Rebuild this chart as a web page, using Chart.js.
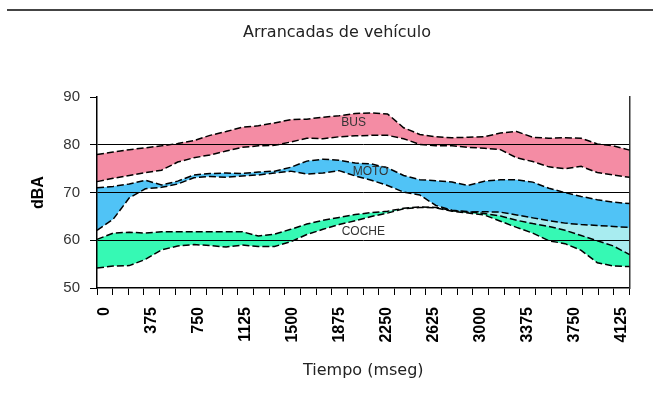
<!DOCTYPE html>
<html>
<head>
<meta charset="utf-8">
<script src="https://cdn.jsdelivr.net/npm/chart.js"></script>
<style>
  body { margin: 0; background: #fff; }
  #marco { position: relative; width: 653px; height: 405px; }
  #raya { position: absolute; top: 9px; left: 7px; width: 646px; height: 2px; background: #444; }
</style>
</head>
<body>
<div id="marco">
  <div id="raya"></div>
  <canvas id="grafico" width="653" height="405"></canvas>
</div>
<script>
// datos (dBA) cada 125 ms
const tiempos = [0, 125, 250, 375, 500, 625, 750, 875, 1000, 1125, 1250, 1375, 1500, 1625, 1750, 1875, 2000,
  2125, 2250, 2375, 2500, 2625, 2750, 2875, 3000, 3125, 3250, 3375, 3500, 3625, 3750, 3875, 4000, 4125];

const busMax = [78.0, 78.5, 79.0, 79.4, 79.8, 80.3, 80.9, 82.0, 82.8, 83.7, 84.0, 84.6, 85.3, 85.4, 85.8, 86.1, 86.6,
  86.7, 86.5, 83.6, 82.2, 81.7, 81.5, 81.6, 81.7, 82.5, 82.8, 81.6, 81.4, 81.5, 81.4, 80.2, 79.8, 78.9];
const busMin = [72.3, 73.0, 73.6, 74.2, 74.7, 76.4, 77.3, 77.9, 78.7, 79.5, 79.8, 79.9, 80.6, 81.4, 81.3, 81.7, 81.9,
  82.0, 82.0, 81.3, 80.1, 79.8, 79.8, 79.5, 79.3, 79.0, 77.3, 76.5, 75.4, 75.0, 75.5, 74.2, 73.7, 73.2];

const motoMax = [71.0, 71.3, 71.8, 72.6, 71.6, 72.4, 73.7, 74.0, 74.1, 74.0, 74.3, 74.5, 75.3, 76.6, 77.0, 76.8, 76.2,
  76.0, 75.2, 73.6, 72.7, 72.5, 72.2, 71.5, 72.4, 72.7, 72.7, 72.2, 70.9, 70.0, 69.2, 68.5, 68.0, 67.7];
const motoMin = [62.1, 64.4, 68.9, 70.8, 71.1, 71.8, 73.1, 73.4, 73.2, 73.5, 73.7, 74.1, 74.5, 73.9, 74.1, 74.6, 73.5,
  72.6, 71.5, 70.1, 69.5, 67.3, 66.3, 66.0, 65.6, 65.1, 64.2, 63.5, 62.9, 62.1, 61.0, 59.9, 58.8, 57.0];

const cocheMax = [60.2, 61.5, 61.7, 61.5, 61.8, 61.8, 61.8, 61.8, 61.8, 61.8, 60.9, 61.3, 62.3, 63.4, 64.2, 64.8, 65.4,
  65.8, 66.1, 66.7, 67.0, 66.9, 66.2, 65.9, 66.0, 65.9, 65.3, 64.7, 64.1, 63.6, 63.3, 63.1, 62.9, 62.7];
const cocheMin = [54.2, 54.6, 54.7, 56.0, 58.0, 58.8, 59.1, 58.9, 58.6, 59.0, 58.7, 58.7, 59.7, 61.2, 62.3, 63.3, 64.1,
  65.0, 65.7, 66.6, 66.9, 66.8, 66.1, 65.7, 65.3, 64.0, 62.7, 61.5, 59.9, 59.3, 57.9, 55.3, 54.6, 54.5];

const yTicks = [50, 60, 70, 80, 90];

const fuente = 'Arial, "Liberation Sans", sans-serif';
const fuenteAncha = '"DejaVu Sans", Verdana, sans-serif';

// rotulos de cada banda (indice de categoria, dBA)
const rotulos = [
  { texto: 'BUS', i: 15.9, v: 84.6 },
  { texto: 'MOTO', i: 16.95, v: 74.3 },
  { texto: 'COCHE', i: 16.5, v: 61.9 }
];

const linea = {
  borderColor: '#000',
  borderWidth: 1.5,
  borderDash: [7, 3],
  pointRadius: 0,
  tension: 0,
  xAxisID: 'xd',
  yAxisID: 'y'
};

const pluginRotulos = {
  id: 'rotulos',
  afterDatasetsDraw(chart) {
    const ctx = chart.ctx;
    const sx = chart.scales.xd, sy = chart.scales.y;
    ctx.save();
    ctx.font = '12px ' + fuente;
    ctx.fillStyle = '#333';
    ctx.textAlign = 'center';
    ctx.textBaseline = 'middle';
    rotulos.forEach(r => ctx.fillText(r.texto, sx.getPixelForValue(r.i), sy.getPixelForValue(r.v)));
    ctx.restore();
  }
};

// el relleno hacia el dataset 0 no funciona, por eso BUS va primero
new Chart(document.getElementById('grafico'), {
  type: 'line',
  data: {
    labels: tiempos,
    datasets: [
      { ...linea, label: 'BUS max', data: busMax, fill: { target: 1 }, backgroundColor: '#F48CA4' },
      { ...linea, label: 'BUS min', data: busMin, fill: false },
      { ...linea, label: 'MOTO min', data: motoMin,
        fill: { target: 4, above: 'rgba(0,0,0,0)', below: '#A8ECF0' } },
      { ...linea, label: 'MOTO max', data: motoMax, fill: { target: 2 }, backgroundColor: '#50C3F6' },
      { ...linea, label: 'COCHE max', data: cocheMax, fill: { target: 5 }, backgroundColor: '#36F9B4' },
      { ...linea, label: 'COCHE min', data: cocheMin, fill: false }
    ]
  },
  options: {
    responsive: false,
    animation: false,
    layout: { padding: { left: 24, right: 3, top: 0, bottom: 23 } },
    plugins: {
      legend: { display: false },
      tooltip: { enabled: false },
      filler: { drawTime: 'beforeDraw', propagate: false },
      title: {
        display: true,
        text: 'Arrancadas de vehículo',
        color: '#222',
        font: { family: fuenteAncha, size: 16, weight: 'normal' },
        padding: { top: 23, bottom: 55 }
      }
    },
    scales: {
      x: {
        type: 'category',
        position: 'bottom',
        offset: true,
        grid: { drawOnChartArea: false, tickLength: 7, color: '#000', offset: true },
        border: { color: '#000', width: 1.5 },
        ticks: {
          autoSkip: false,
          maxRotation: 90,
          minRotation: 90,
          padding: 12,
          color: '#000',
          font: { family: fuente, size: 16, weight: 'bold' },
          callback: (v, i) => (i % 3 === 0 ? tiempos[i] : '')
        },
        title: {
          display: true,
          text: 'Tiempo (mseg)',
          color: '#222',
          font: { family: fuenteAncha, size: 16 },
          padding: { top: 0, bottom: 2 }
        },
        afterFit: s => { s.height = 94; }
      },
      xd: { type: 'category', display: false, offset: false },
      y: {
        min: 50,
        max: 90,
        afterBuildTicks: s => { s.ticks = yTicks.map(v => ({ value: v })); },
        grid: {
          color: c => (c.tick && (c.tick.value === 90 || c.tick.value === 50) ? 'rgba(0,0,0,0)' : '#000'),
          tickColor: '#000',
          tickLength: 7
        },
        border: { color: '#000', width: 1.5 },
        ticks: { padding: 10, color: '#333', font: { family: fuente, size: 15 } },
        title: {
          display: true,
          text: 'dBA',
          color: '#000',
          font: { family: fuente, size: 16, weight: 'bold' },
          padding: { top: 5, bottom: 0 }
        },
        afterFit: s => { s.width = 73; }
      },
      yR: {
        position: 'right',
        min: 50,
        max: 90,
        ticks: { display: false },
        grid: { drawOnChartArea: false, drawTicks: false },
        border: { color: '#333', width: 1.5 },
        afterFit: s => { s.width = 0; }
      }
    }
  },
  plugins: [pluginRotulos]
});
</script>
</body>
</html>
